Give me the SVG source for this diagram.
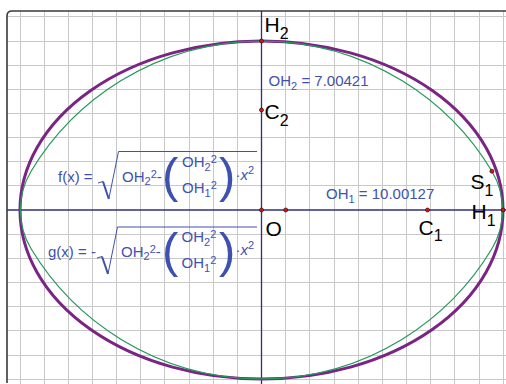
<svg xmlns="http://www.w3.org/2000/svg" width="506" height="384" viewBox="0 0 506 384">
<style>
.grid{stroke:#c8c8c8;stroke-width:1;fill:none}
.axis{stroke:#2e2e80;stroke-width:1.3;fill:none}
.frame{stroke:#3a3a3a;stroke-width:1.6;fill:none}
.ell{stroke:#7a2584;stroke-width:3;fill:none}
.oval{stroke:#23985a;stroke-width:1.2;fill:none}
.pt{fill:#d41616;stroke:#3a0a0a;stroke-width:0.7}
.lbl{font-family:"Liberation Sans",Arial,sans-serif;font-size:21px;fill:#000}
.sub{font-size:16px}
.blue{font-family:"Liberation Sans",Arial,sans-serif;font-size:15px;fill:#3f51b0}
.s{font-size:11px}
.paren{font-size:49px}
.rad{stroke:#3f51b0;fill:none;stroke-width:1}
.radb{stroke:#3f51b0;fill:none;stroke-width:2}
</style>
<rect x="0" y="0" width="506" height="384" fill="#fff"/>
<g id="grid">
<path class="grid" d="M20.5,11V384M44.5,11V384M68.5,11V384M92.5,11V384M116.5,11V384M140.5,11V384M164.5,11V384M189.5,11V384M213.5,11V384M237.5,11V384M285.5,11V384M309.5,11V384M334.5,11V384M358.5,11V384M382.5,11V384M406.5,11V384M430.5,11V384M454.5,11V384M479.5,11V384M503.5,11V384"/>
<path class="grid" d="M7,16.5H506M7,41.5H506M7,65.5H506M7,89.5H506M7,113.5H506M7,137.5H506M7,161.5H506M7,185.5H506M7,234.5H506M7,258.5H506M7,282.5H506M7,306.5H506M7,330.5H506M7,355.5H506M7,379.5H506"/>
</g>
<path id="frame" class="frame" d="M7,383V16Q7,11 12,11H506"/>
<g id="axes">
<path class="axis" d="M7,210H506"/>
<path class="axis" d="M261.5,11V384"/>
</g>
<g id="connectors">
<ellipse id="ellipse" class="ell" cx="261.5" cy="210" rx="241.5" ry="169"/>
<path id="oval" class="oval" d="M491.9,171.2A75.5,75.5 0 0 1 491.9,248.8A269,269 0 0 1 31.1,248.8A75.5,75.5 0 0 1 31.1,171.2A269,269 0 0 1 491.9,171.2Z"/>
</g>
<g id="formula-f">
<text class="blue" x="58" y="181.5">f(x) =</text>
<path class="rad" d="M98,183L103,181.5"/>
<path class="radb" d="M103,181.5L108.8,199"/>
<path class="rad" d="M108.8,199L118.5,151.5H257"/>
<text class="blue" x="122" y="181.5">OH<tspan class="s" dy="3.5">2</tspan><tspan class="s" dy="-7">2</tspan><tspan dy="3.5">-</tspan></text>
<text class="blue paren" x="162" y="192">(</text>
<text class="blue" x="182" y="167.3">OH<tspan class="s" dy="4">2</tspan><tspan class="s" dy="-8">2</tspan></text>
<text class="blue" x="182" y="192.5">OH<tspan class="s" dy="4">1</tspan><tspan class="s" dy="-8">2</tspan></text>
<text class="blue paren" x="219" y="192">)</text>
<text class="blue" x="235.5" y="180">·<tspan font-style="italic">x</tspan><tspan class="s" dy="-6">2</tspan></text>
</g>
<g id="formula-g">
<text class="blue" x="48" y="256.5">g(x) = -</text>
<path class="rad" d="M97,258L102,256.5"/>
<path class="radb" d="M102,256.5L108,274"/>
<path class="rad" d="M108,274L117.5,227H257"/>
<text class="blue" x="121" y="256.5">OH<tspan class="s" dy="3.5">2</tspan><tspan class="s" dy="-7">2</tspan><tspan dy="3.5">-</tspan></text>
<text class="blue paren" x="162" y="267">(</text>
<text class="blue" x="181.5" y="242.3">OH<tspan class="s" dy="4">2</tspan><tspan class="s" dy="-8">2</tspan></text>
<text class="blue" x="181.5" y="267.5">OH<tspan class="s" dy="4">1</tspan><tspan class="s" dy="-8">2</tspan></text>
<text class="blue paren" x="219" y="267">)</text>
<text class="blue" x="235.5" y="255">·<tspan font-style="italic">x</tspan><tspan class="s" dy="-6">2</tspan></text>
</g>
<g id="label-OH2">
<text class="blue" x="268.6" y="85.5">OH<tspan class="s" dy="4">2</tspan><tspan dy="-4"> = 7.00421</tspan></text>
</g>
<g id="label-OH1">
<text class="blue" x="326" y="198.5">OH<tspan class="s" dy="4">1</tspan><tspan dy="-4"> = 10.00127</tspan></text>
</g>
<g id="point-H2">
<circle class="pt" cx="261.5" cy="41" r="2"/>
<text class="lbl" x="264.5" y="32">H<tspan class="sub" dy="7">2</tspan></text>
</g>
<g id="point-C2">
<circle class="pt" cx="261.5" cy="110" r="2"/>
<text class="lbl" x="264.5" y="119">C<tspan class="sub" dy="7">2</tspan></text>
</g>
<g id="point-O">
<circle class="pt" cx="261.5" cy="210" r="2"/>
<text class="lbl" x="265.5" y="235.5">O</text>
</g>
<g id="point-U">
<circle class="pt" cx="285.7" cy="210" r="2"/>
</g>
<g id="point-C1">
<circle class="pt" cx="427.5" cy="210" r="2"/>
<text class="lbl" x="418.5" y="235">C<tspan class="sub" dy="6">1</tspan></text>
</g>
<g id="point-H1">
<circle class="pt" cx="503" cy="210" r="2"/>
<text class="lbl" x="471.5" y="219">H<tspan class="sub" dy="7">1</tspan></text>
</g>
<g id="point-S1">
<circle class="pt" cx="491.9" cy="171.2" r="2"/>
<text class="lbl" x="470.5" y="189">S<tspan class="sub" dy="7">1</tspan></text>
</g>
</svg>
